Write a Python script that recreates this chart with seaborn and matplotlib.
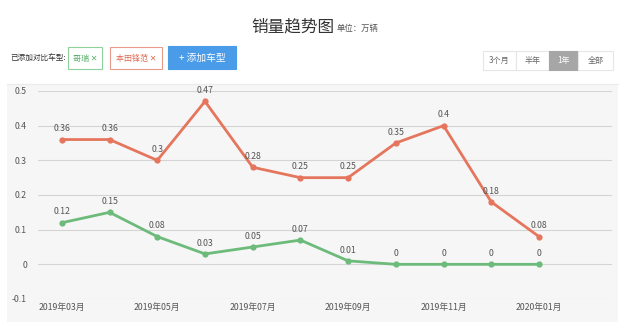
import numpy as np
import pandas as pd
import seaborn as sns
import matplotlib.pyplot as plt
from matplotlib.patches import Rectangle

# data (万辆)
months = ['2019年03月', '2019年04月', '2019年05月', '2019年06月', '2019年07月', '2019年08月',
          '2019年09月', '2019年10月', '2019年11月', '2019年12月', '2020年01月']
greiz = [0.12, 0.15, 0.08, 0.03, 0.05, 0.07, 0.01, 0, 0, 0, 0]
city = [0.36, 0.36, 0.3, 0.47, 0.28, 0.25, 0.25, 0.35, 0.4, 0.18, 0.08]
series_names = ['本田锋范', '哥瑞']
colors = {'本田锋范': '#e5765d', '哥瑞': '#6dbb7b'}

df = pd.DataFrame({
    'idx': list(range(len(months))) * 2,
    'value': city + greiz,
    'series': [series_names[0]] * len(months) + [series_names[1]] * len(months),
})

sns.set_theme(style='white')
plt.rcParams['font.family'] = ['Noto Sans CJK SC', 'DejaVu Sans']

W, H = 640, 333
fig = plt.figure(figsize=(6.4, 3.33), dpi=100)

def fx(px):
    return px / W

def fy(py):
    return 1 - py / H

# panel background + header separator
fig.patches.append(Rectangle((fx(7), fy(322)), fx(611), (322 - 85) / H,
                             transform=fig.transFigure, facecolor='#f6f6f6',
                             edgecolor='none', zorder=-5))
fig.lines.append(plt.Line2D([fx(7), fx(618)], [fy(84), fy(84)], transform=fig.transFigure,
                            color='#ececec', lw=1, zorder=-4))

# header
fig.text(fx(293), fy(27), '销量趋势图', fontsize=12, color='#333333', ha='center', va='center')
fig.text(fx(337), fy(28), '单位：万辆', fontsize=6, color='#555555', ha='left', va='center')
fig.text(fx(10), fy(59), '已添加对比车型:', fontsize=5.5, color='#333333', ha='left', va='center')


def button(x0, x1, y0, y1, text, fc, ec, tc, fs=5.8):
    fig.patches.append(Rectangle((fx(x0), fy(y1)), fx(x1 - x0), (y1 - y0) / H,
                                 transform=fig.transFigure, facecolor=fc, edgecolor=ec,
                                 lw=0.8, zorder=-3))
    fig.text(fx((x0 + x1) / 2), fy((y0 + y1) / 2), text, fontsize=fs, color=tc,
             ha='center', va='center')


button(68, 102, 47, 69, '哥瑞 ✕', 'white', '#8fd19c', '#5cb06c')
button(110, 162, 47, 69, '本田锋范 ✕', 'white', '#e89a8c', '#e06a55')
button(168, 236, 46, 69, '+ 添加车型', '#4a9be8', '#4a9be8', 'white', fs=7)
button(483, 516, 51, 70, '3个月', 'white', '#e6e6e6', '#666666')
button(516, 549, 51, 70, '半年', 'white', '#e6e6e6', '#666666')
button(549, 578, 51, 70, '1年', '#a6a6a6', '#a6a6a6', 'white')
button(578, 613, 51, 70, '全部', 'white', '#e6e6e6', '#666666')

# chart axes
ax = fig.add_axes([fx(38), fy(299), fx(612 - 38), (299 - 91) / H])
ax.set_facecolor('none')
ax.set_zorder(2)
sns.lineplot(data=df, x='idx', y='value', hue='series', palette=colors,
             marker='o', markersize=4.5, markeredgewidth=0, linewidth=2,
             legend=False, ax=ax, zorder=3)

for name, vals in zip(series_names, [city, greiz]):
    for i, v in enumerate(vals):
        ax.annotate(f'{v:g}', (i, v), xytext=(0, 4.5), textcoords='offset points',
                    ha='center', va='bottom', fontsize=6.3, color='#555555')

ax.set_xlim(-0.5, 11.53)
ax.set_ylim(-0.1, 0.5)
ax.set_yticks(np.arange(-0.1, 0.51, 0.1))
ax.set_yticklabels(['-0.1', '0', '0.1', '0.2', '0.3', '0.4', '0.5'])
tick_pos = list(range(0, len(months), 2))
ax.set_xticks(tick_pos)
ax.set_xticklabels([months[i] for i in tick_pos])
ax.grid(axis='y', color='#d4d4d4', lw=0.8)
ax.grid(axis='x', visible=False)
for s in ax.spines.values():
    s.set_visible(False)
ax.tick_params(axis='both', length=0, labelsize=6.3, labelcolor='#555555')
ax.tick_params(axis='y', pad=8)
ax.tick_params(axis='x', pad=3)
ax.set_xlabel('')
ax.set_ylabel('')

fig.savefig('out.png', dpi=100, facecolor='white')
